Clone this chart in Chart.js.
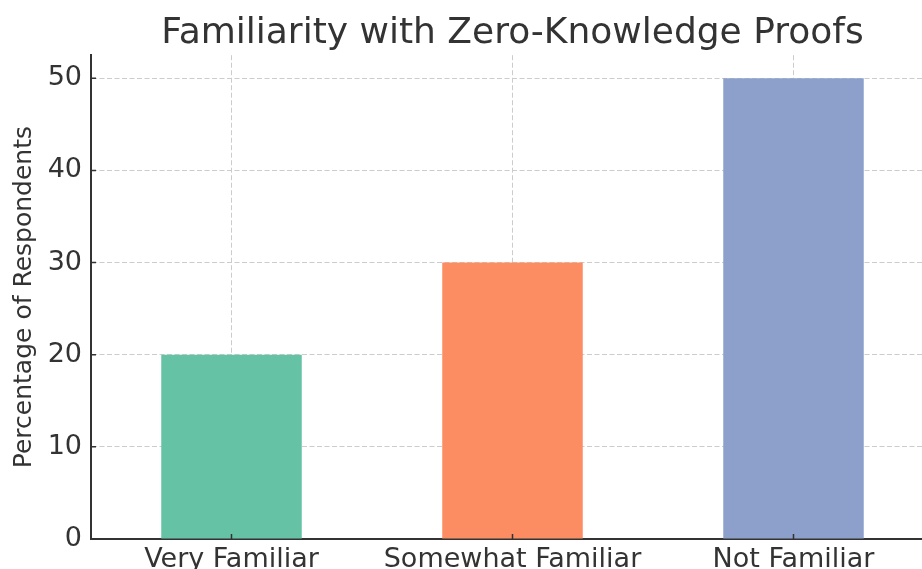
<!DOCTYPE html>
<html>
<head>
<meta charset="utf-8">
<script src="https://cdn.jsdelivr.net/npm/chart.js@4"></script>
<style>
  html, body { margin: 0; padding: 0; overflow: hidden; background: #fff; }
  #wrap { width: 934px; height: 569px; }
</style>
</head>
<body>
<div id="wrap"><canvas id="chart"></canvas></div>
<script>
// data
const categories = ['Very Familiar', 'Somewhat Familiar', 'Not Familiar'];
const percentages = [20, 30, 50];
const barColors = ['#66c2a5', '#fc8d62', '#8da0cb'];
const yTicks = [0, 10, 20, 30, 40, 50];

const font = 'DejaVu Sans';
const ink = '#333';

// matplotlib-like inward tick marks
const inwardTicks = {
    id: 'inwardTicks',
    afterDraw(chart) {
        const ctx = chart.ctx;
        const x = chart.scales.x, y = chart.scales.y;
        ctx.save();
        ctx.strokeStyle = ink;
        ctx.lineWidth = 1.5;
        ctx.beginPath();
        y.ticks.forEach((t, i) => {
            const py = y.getPixelForTick(i);
            ctx.moveTo(x.left, py);
            ctx.lineTo(x.left + 5, py);
        });
        x.ticks.forEach((t, i) => {
            const px = x.getPixelForTick(i);
            ctx.moveTo(px, y.bottom);
            ctx.lineTo(px, y.bottom - 5);
        });
        ctx.stroke();
        ctx.restore();
    }
};

const ctx = document.getElementById('chart');
new Chart(ctx, {
    type: 'bar',
    data: {
        labels: categories,
        datasets: [{
            data: percentages,
            backgroundColor: barColors,
            borderWidth: 0,
            categoryPercentage: 1,
            barPercentage: 0.5
        }]
    },
    options: {
        responsive: true,
        maintainAspectRatio: false,
        animation: false,
        layout: { padding: 0 },
        plugins: {
            legend: { display: false },
            tooltip: { enabled: false },
            title: {
                display: true,
                text: 'Familiarity with Zero-Knowledge Proofs',
                fullSize: false,
                color: ink,
                font: { family: font, size: 36, weight: 'normal' },
                padding: { top: 12, bottom: 0 }
            }
        },
        scales: {
            x: {
                z: 1,
                grid: {
                    offset: false,
                    drawTicks: false,
                    color: '#cccccc',
                    lineWidth: 1
                },
                border: { display: true, color: ink, width: 2, dash: [5, 2.5] },
                ticks: {
                    color: ink,
                    padding: 5,
                    font: { family: font, size: 27 }
                },
                afterFit(scale) { scale.height = 30; }
            },
            y: {
                z: 1,
                min: 0,
                max: 52.5,
                afterBuildTicks(scale) {
                    scale.ticks = yTicks.map(v => ({ value: v }));
                },
                grid: {
                    drawTicks: false,
                    color: '#cccccc',
                    lineWidth: 1
                },
                border: { display: true, color: ink, width: 2, dash: [5, 2.5] },
                ticks: {
                    color: ink,
                    padding: 9,
                    font: { family: font, size: 27 }
                },
                title: {
                    display: true,
                    text: 'Percentage of Respondents',
                    color: ink,
                    font: { family: font, size: 25 },
                    padding: { top: 9, bottom: 0 }
                },
                afterFit(scale) { scale.width = 91; }
            }
        }
    },
    plugins: [inwardTicks]
});
</script>
</body>
</html>
